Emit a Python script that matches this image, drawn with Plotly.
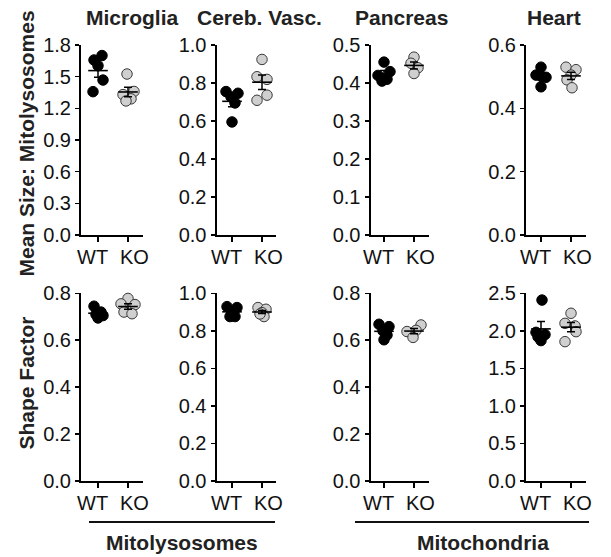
import numpy as np
import plotly.graph_objects as go

W, H = 611, 557

# ---------------- data ----------------
groups = ["WT", "KO"]
tissues = ["Microglia", "Cereb. Vasc.", "Pancreas", "Heart"]
group_labels = ["Mitolysosomes", "Mitochondria"]
row_titles = ["Mean Size: Mitolysosomes", "Shape Factor"]

# Mean size (top row)
size_microglia_wt = [1.658, 1.70, 1.604, 1.468, 1.358]
size_microglia_ko = [1.525, 1.36, 1.33, 1.29, 1.27]
size_cereb_wt = [0.755, 0.746, 0.727, 0.695, 0.595]
size_cereb_ko = [0.924, 0.833, 0.819, 0.736, 0.709]
size_pancreas_wt = [0.455, 0.420, 0.430, 0.405, 0.410]
size_pancreas_ko = [0.468, 0.452, 0.440, 0.425]
size_heart_wt = [0.530, 0.505, 0.498, 0.468, 0.500]
size_heart_ko = [0.530, 0.522, 0.505, 0.490, 0.465]

# Shape factor (bottom row)
shape_microglia_wt = [0.745, 0.720, 0.710, 0.695, 0.705]
shape_microglia_ko = [0.778, 0.755, 0.752, 0.720, 0.713]
shape_cereb_wt = [0.929, 0.924, 0.902, 0.876, 0.876]
shape_cereb_ko = [0.924, 0.915, 0.897, 0.876, 0.890]
shape_pancreas_wt = [0.668, 0.658, 0.640, 0.622, 0.602]
shape_pancreas_ko = [0.665, 0.642, 0.637, 0.612]
shape_heart_wt = [2.41, 1.98, 1.95, 1.92, 1.87]
shape_heart_ko = [2.234, 2.10, 2.065, 1.989, 1.856]

# y-axis tick settings per panel (max, step)
y_max = [1.8, 1.0, 0.5, 0.6, 0.8, 1.0, 0.8, 2.5]
y_step = [0.3, 0.2, 0.1, 0.2, 0.2, 0.2, 0.2, 0.5]

panels_data = [
    (size_microglia_wt, size_microglia_ko),
    (size_cereb_wt, size_cereb_ko),
    (size_pancreas_wt, size_pancreas_ko),
    (size_heart_wt, size_heart_ko),
    (shape_microglia_wt, shape_microglia_ko),
    (shape_cereb_wt, shape_cereb_ko),
    (shape_pancreas_wt, shape_pancreas_ko),
    (shape_heart_wt, shape_heart_ko),
]

# ---------------- layout / style (px) ----------------
# horizontal point spread (px) so overlapping dots are visible
jitter_px = [
    ([-4, 4, 0, 5, -5], [-1, 6, -5, 3, -2]),
    ([-6, 6, -1, 3, 0], [0, -5, 5, 5, -5]),
    ([0, -6, 6, -2, 3], [0, -3, 4, 0]),
    ([0, -5, 5, 0, 1], [-5, 5, 0, -4, 1]),
    ([-4, 3, -2, 0, 5], [0, -7, 7, -4, 4]),
    ([-5, 5, 0, -2, 3], [-4, 4, 0, 2, -2]),
    ([-5, 5, -1, 3, 0], [7, 2, -7, -1]),
    ([1, -5, 4, -3, 0], [0, -6, 4, 5, -6]),
]
# columns: axis left px, WT px, KO px, axis right px
cols = [(81, 98, 128, 143), (216.5, 232, 262, 276),
        (370.5, 384, 414, 429), (526, 541, 571, 585.5)]
rows = [(45, 235), (293.3, 481)]  # top px, bottom px
label_shift = [-6, 6]  # px shift of WT / KO labels from their ticks

FONT = "Liberation Sans, Arial, sans-serif"
fill_colors = ["#000000", "#cfcfcf"]
edge_colors = ["#000000", "#3a3a3a"]


def px_x(p):
    return p / W


def px_y(p):
    return 1 - p / H


fig = go.Figure()
layout = dict(width=W, height=H, margin=dict(l=0, r=0, t=0, b=0),
              autosize=False, paper_bgcolor="white", plot_bgcolor="white",
              showlegend=False, font=dict(family=FONT, color="#111", size=20))
annotations = []

for k in range(8):
    r, c = divmod(k, 4)
    left, wt, ko, right = cols[c]
    unit = ko - wt
    xr = [-(wt - left) / unit, 1 + (right - ko) / unit]
    top, bot = rows[r]
    ax = "" if k == 0 else str(k + 1)
    xa, ya = "x" + ax, "y" + ax
    for g in range(2):
        vals = np.array(panels_data[k][g], dtype=float)
        xs = g + np.array(jitter_px[k][g]) / unit
        fig.add_trace(go.Scatter(
            x=xs, y=vals, mode="markers", xaxis=xa, yaxis=ya,
            cliponaxis=False,
            marker=dict(size=10.5, color=fill_colors[g],
                        line=dict(color=edge_colors[g], width=1))))
    for g in range(2):
        vals = np.array(panels_data[k][g], dtype=float)
        m = vals.mean()
        sem = vals.std(ddof=1) / np.sqrt(len(vals))
        fig.add_trace(go.Scatter(
            x=[g], y=[m], mode="markers", xaxis=xa, yaxis=ya,
            cliponaxis=False,
            marker=dict(symbol="line-ew", size=14,
                        line=dict(color="#000", width=1.6)),
            error_y=dict(type="data", array=[sem], visible=True,
                         color="#000", thickness=1.5, width=4)))
        annotations.append(dict(
            text=groups[g], x=g, xref=xa, y=px_y(bot + 22), yref="paper",
            xshift=label_shift[g], showarrow=False, xanchor="center",
            yanchor="middle", font=dict(size=20, family=FONT, color="#111")))
    nt = int(round(y_max[k] / y_step[k]))
    tv = [i * y_step[k] for i in range(nt + 1)]
    layout["xaxis" + ax] = dict(
        domain=[px_x(left), px_x(right)], range=xr, anchor=ya,
        showline=True, linecolor="#000", linewidth=2,
        ticks="outside", ticklen=5, tickwidth=1.5, tickcolor="#000",
        tickvals=[0, 1], showticklabels=False, showgrid=False,
        zeroline=False, automargin=False, fixedrange=True)
    layout["yaxis" + ax] = dict(
        domain=[px_y(bot), px_y(top)], range=[0, y_max[k]], anchor=xa,
        showline=True, linecolor="#000", linewidth=2,
        ticks="outside", ticklen=4, tickwidth=1.5, tickcolor="#000",
        tickvals=tv, tickformat=".1f", showgrid=False, zeroline=False,
        automargin=False,
        tickfont=dict(size=20, family=FONT, color="#111"), fixedrange=True)

title_cx = [132.5, 259.5, 401.5, 554]
for t, cx in zip(tissues, title_cx):
    annotations.append(dict(text="<b>%s</b>" % t, x=px_x(cx), y=px_y(18),
                            xref="paper", yref="paper", showarrow=False,
                            xanchor="center", yanchor="middle",
                            font=dict(size=21, family=FONT, color="#222")))
for t, cy in zip(row_titles, [143.5, 383.5]):
    annotations.append(dict(text="<b>%s</b>" % t, x=px_x(26), y=px_y(cy),
                            xref="paper", yref="paper", showarrow=False,
                            textangle=-90, xanchor="center", yanchor="middle",
                            font=dict(size=21, family=FONT, color="#222")))
for t, cx in zip(group_labels, [182, 483]):
    annotations.append(dict(text="<b>%s</b>" % t, x=px_x(cx), y=px_y(542),
                            xref="paper", yref="paper", showarrow=False,
                            xanchor="center", yanchor="middle",
                            font=dict(size=21, family=FONT, color="#222")))
layout["annotations"] = annotations
layout["shapes"] = [
    dict(type="line", xref="paper", yref="paper", x0=px_x(89), x1=px_x(275),
         y0=px_y(522), y1=px_y(522), line=dict(color="#111", width=2)),
    dict(type="line", xref="paper", yref="paper", x0=px_x(355), x1=px_x(589),
         y0=px_y(522), y1=px_y(522), line=dict(color="#111", width=2)),
]
fig.update_layout(**layout)
fig.write_html("out.html",
               config={"displayModeBar": False, "staticPlot": True},
               post_script="document.body.style.margin='0';"
                           "document.body.style.overflow='hidden';")
